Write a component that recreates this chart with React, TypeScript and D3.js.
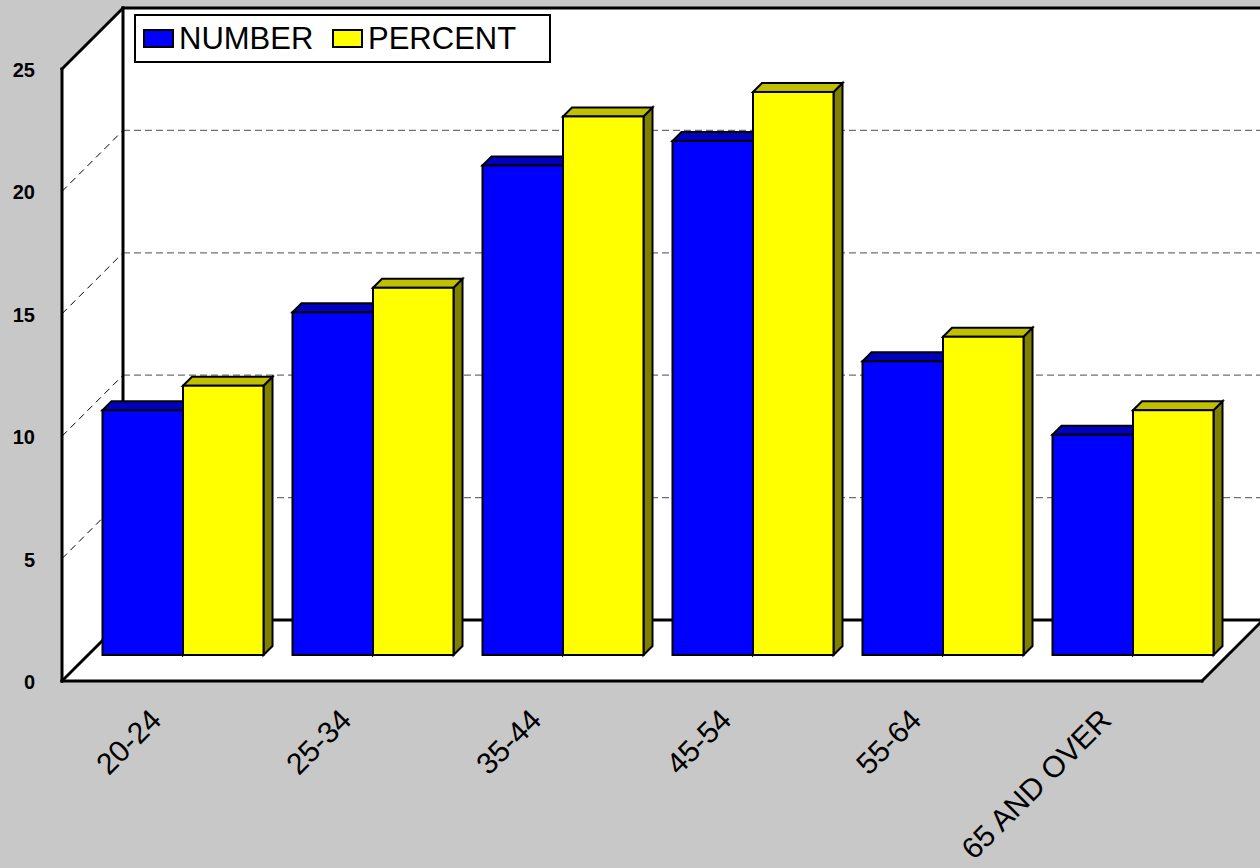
import React, { useEffect, useRef } from 'react';
import * as d3 from 'd3';

// data
const categories = ['20-24', '25-34', '35-44', '45-54', '55-64', '65 AND OVER'];
const numberValues = [10, 14, 20, 21, 12, 9];
const percentValues = [11, 15, 22, 23, 13, 10];
const seriesNames = ['NUMBER', 'PERCENT'];
const yTicks = [0, 5, 10, 15, 20, 25];

const WIDTH = 1260;
const HEIGHT = 868;

export default function App() {
    const ref = useRef<SVGSVGElement>(null);

    useEffect(() => {
        const svg = d3.select(ref.current);
        svg.selectAll('*').remove();

        // front plane of the 3d box, depth goes up and right
        const x0 = 62, x1 = 1202;
        const depth = 61;
        const barDepth0 = 26, barDepth = 9;

        const x = d3.scaleBand<string>().domain(categories).range([x0, x1]);
        const xSeries = d3.scaleBand<string>().domain(seriesNames)
            .range([0, x.bandwidth()]).paddingInner(0).paddingOuter(0.18);
        const y = d3.scaleLinear().domain([0, 25]).range([681, 69]);

        const colors = {
            NUMBER: { front: '#0000FF', top: '#0000C0', side: '#000080' },
            PERCENT: { front: '#FFFF00', top: '#C0C000', side: '#808000' },
        } as Record<string, { front: string, top: string, side: string }>;

        svg.append('rect')
            .attr('width', WIDTH).attr('height', HEIGHT)
            .attr('fill', '#C8C8C8');

        const pt = (px: number, py: number) => px + ',' + py;

        // walls
        const y0 = y(0), yTop = y(25);
        svg.append('polygon')
            .attr('points', [pt(x0 + depth, yTop - depth), pt(x1 + depth + 20, yTop - depth),
                pt(x1 + depth + 20, y0 - depth), pt(x0 + depth, y0 - depth)].join(' '))
            .attr('fill', 'white');
        svg.append('polygon')
            .attr('points', [pt(x0, y0), pt(x0, yTop), pt(x0 + depth, yTop - depth), pt(x0 + depth, y0 - depth)].join(' '))
            .attr('fill', 'white');
        svg.append('polygon')
            .attr('points', [pt(x0, y0), pt(x1, y0), pt(x1 + depth, y0 - depth), pt(x0 + depth, y0 - depth)].join(' '))
            .attr('fill', 'white');

        // gridlines
        const grid = yTicks.filter(d => d > 0 && d < 25);
        svg.selectAll('.gridBack').data(grid).enter().append('line')
            .attr('x1', x0 + depth).attr('x2', x1 + depth + 20)
            .attr('y1', d => y(d) - depth).attr('y2', d => y(d) - depth)
            .attr('stroke', '#707070').attr('stroke-width', 1.3)
            .attr('stroke-dasharray', '7 4');
        svg.selectAll('.gridSide').data(grid).enter().append('line')
            .attr('x1', x0).attr('x2', x0 + depth)
            .attr('y1', d => y(d)).attr('y2', d => y(d) - depth)
            .attr('stroke', '#000').attr('stroke-width', 1)
            .attr('stroke-dasharray', '7 5');

        // box edges
        const edge = (a: number[], b: number[]) => svg.append('line')
            .attr('x1', a[0]).attr('y1', a[1]).attr('x2', b[0]).attr('y2', b[1])
            .attr('stroke', '#000').attr('stroke-width', 3).attr('stroke-linecap', 'square');
        edge([x0 + depth, yTop - depth], [WIDTH + 10, yTop - depth]);
        edge([x0 + depth, yTop - depth], [x0 + depth, y0 - depth]);
        edge([x0 + depth, y0 - depth], [WIDTH + 10, y0 - depth]);
        edge([x0, yTop], [x0 + depth, yTop - depth]);
        edge([x0, yTop], [x0, y0]);
        edge([x0, y0], [x0 + depth, y0 - depth]);
        edge([x0, y0], [x1, y0]);
        edge([x1, y0], [x1 + depth, y0 - depth]);

        // bars
        const rows = categories.map((c, i) => ({ cat: c, values: [numberValues[i], percentValues[i]] }));
        rows.forEach(row => {
            row.values.forEach((v, si) => {
                const s = seriesNames[si];
                const xl = x(row.cat)! + xSeries(s)! + barDepth0;
                const xr = xl + xSeries.bandwidth();
                const yb = y(0) - barDepth0;
                const yt = y(v) - barDepth0;
                const g = svg.append('g')
                    .attr('stroke', '#000').attr('stroke-width', 2).attr('stroke-linejoin', 'miter');
                g.append('polygon')
                    .attr('points', [pt(xr, yb), pt(xr + barDepth, yb - barDepth), pt(xr + barDepth, yt - barDepth), pt(xr, yt)].join(' '))
                    .attr('fill', colors[s].side);
                g.append('polygon')
                    .attr('points', [pt(xl, yt), pt(xl + barDepth, yt - barDepth), pt(xr + barDepth, yt - barDepth), pt(xr, yt)].join(' '))
                    .attr('fill', colors[s].top);
                g.append('rect')
                    .attr('x', xl).attr('y', yt)
                    .attr('width', xr - xl).attr('height', yb - yt)
                    .attr('fill', colors[s].front);
            });
        });

        // y axis labels
        svg.selectAll('.ylab').data(yTicks).enter().append('text')
            .attr('x', 35).attr('y', d => y(d) + 8)
            .attr('text-anchor', 'end')
            .style('font-family', 'Liberation Sans, Arial, sans-serif')
            .style('font-weight', 'bold')
            .style('font-size', '20px')
            .text(d => d);

        // x axis labels
        svg.selectAll('.xlab').data(categories).enter().append('text')
            .attr('transform', d => 'translate(' + (x(d)! + x.bandwidth() / 2 + 6) + ',722) rotate(-45)')
            .attr('text-anchor', 'end')
            .style('font-family', 'Liberation Sans, Arial, sans-serif')
            .style('font-size', '30px')
            .text(d => d);

        // legend
        const legend = svg.append('g');
        legend.append('rect')
            .attr('x', 135).attr('y', 15).attr('width', 415).attr('height', 47)
            .attr('fill', 'white').attr('stroke', '#000').attr('stroke-width', 2);
        const legendX = [144, 333];
        seriesNames.forEach((s, i) => {
            legend.append('rect')
                .attr('x', legendX[i]).attr('y', 30).attr('width', 29).attr('height', 17)
                .attr('fill', colors[s].front).attr('stroke', '#000').attr('stroke-width', 2);
            legend.append('text')
                .attr('x', legendX[i] + 35).attr('y', 49)
                .style('font-family', 'Liberation Sans, Arial, sans-serif')
                .style('font-size', '31px')
                .text(s);
        });
    }, []);

    return (
        <svg ref={ref} width={WIDTH} height={HEIGHT}
            style={{ position: 'absolute', left: 0, top: 0, display: 'block' }} />
    );
}
